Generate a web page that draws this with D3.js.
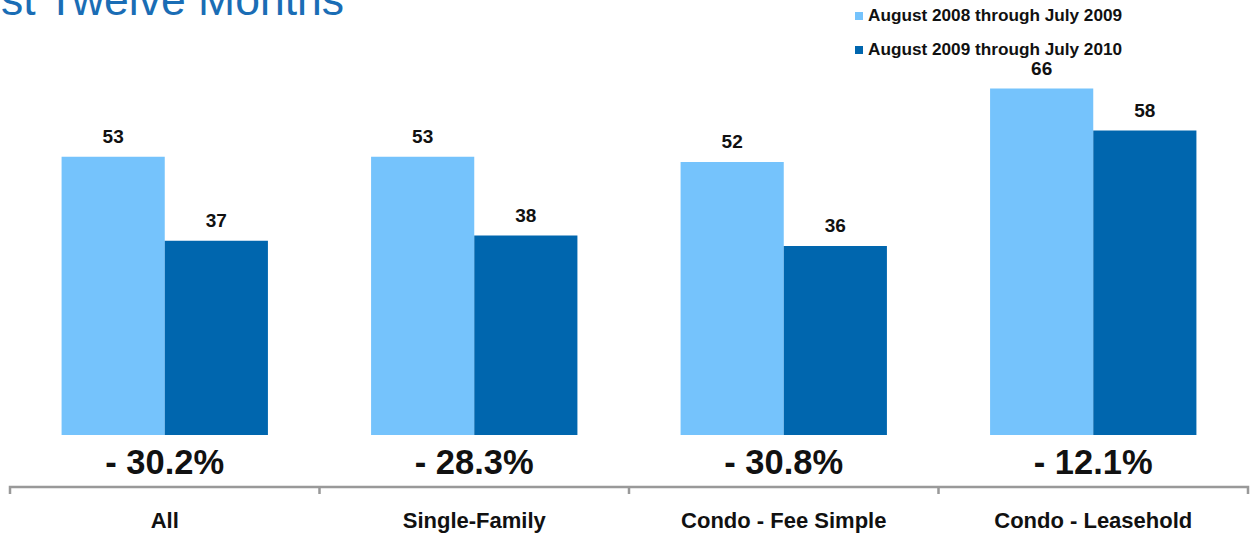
<!DOCTYPE html>
<html>
<head>
<meta charset="utf-8">
<script src="https://cdn.jsdelivr.net/npm/d3@7"></script>
<style>
  body { margin: 0; background: #fff; }
  svg { display: block; font-family: "Liberation Sans", Arial, sans-serif; }
</style>
</head>
<body>
<div id="chart"></div>
<script>
// data
const categories = ["All", "Single-Family", "Condo - Fee Simple", "Condo - Leasehold"];
const seriesNames = ["August 2008 through July 2009", "August 2009 through July 2010"];
const period1 = [53, 53, 52, 66];
const period2 = [37, 38, 36, 58];
const titleText = "st Twelve Months";

const width = 1257, height = 533;
const colors = ["#75c3fc", "#0066ae"];

const svg = d3.select("#chart")
    .append("svg")
    .attr("width", width)
    .attr("height", height);

// title (cut off at the left edge as in the original slide)
svg.append("text")
    .attr("x", 344)
    .attr("y", 15)
    .attr("text-anchor", "end")
    .style("font-size", "44.5px")
    .style("fill", "#1a6db5")
    .text(titleText);

const rows = categories.map((c, i) => ({cat: c, values: [period1[i], period2[i]]}));

// scales
const x0 = d3.scaleBand()
    .domain(categories)
    .range([10, 1248])
    .paddingInner(0);

const x1 = d3.scaleBand()
    .domain([0, 1])
    .range([0, x0.bandwidth()])
    .paddingInner(0)
    .paddingOuter(0.5);

const y = d3.scaleLinear()
    .domain([0, 80])
    .range([435, 15]);

// bars
const groups = svg.append("g").attr("class", "bars")
    .selectAll("g")
    .data(rows)
    .join("g")
    .attr("transform", d => `translate(${x0(d.cat)},0)`);

groups.selectAll("rect")
    .data(d => d.values.map((v, k) => ({k: k, v: v})))
    .join("rect")
    .attr("x", d => x1(d.k))
    .attr("y", d => y(d.v))
    .attr("width", x1.bandwidth())
    .attr("height", d => y(0) - y(d.v))
    .attr("fill", d => colors[d.k]);

// value labels
groups.selectAll("text.val")
    .data(d => d.values.map((v, k) => ({k: k, v: v})))
    .join("text")
    .attr("class", "val")
    .attr("x", d => x1(d.k) + x1.bandwidth() / 2)
    .attr("y", d => y(d.v) - 14)
    .attr("text-anchor", "middle")
    .style("font-size", "19px")
    .style("font-weight", "bold")
    .style("fill", "#111")
    .text(d => d.v);

// percent change under each group
groups.append("text")
    .attr("x", x0.bandwidth() / 2)
    .attr("y", 474)
    .attr("text-anchor", "middle")
    .style("font-size", "34.5px")
    .style("font-weight", "bold")
    .style("fill", "#111")
    .text(d => {
        const pct = (d.values[1] - d.values[0]) / d.values[0] * 100;
        return (pct < 0 ? "- " : "+ ") + Math.abs(pct).toFixed(1) + "%";
    });

// category axis
const axis = svg.append("g")
    .attr("transform", "translate(0,487)")
    .call(d3.axisBottom(x0).tickSize(0).tickPadding(25));

axis.select(".domain")
    .attr("d", "M10,7V0H1248V7")
    .attr("stroke", "#999")
    .attr("stroke-width", 2.5)
    .attr("fill", "none");

axis.selectAll(".tick text")
    .style("font-family", "'Liberation Sans', Arial, sans-serif")
    .style("font-size", "22px")
    .style("font-weight", "bold")
    .style("fill", "#111");

// separators between groups
axis.selectAll("line.sep")
    .data(categories.slice(1))
    .join("line")
    .attr("class", "sep")
    .attr("x1", d => x0(d))
    .attr("x2", d => x0(d))
    .attr("y1", 0)
    .attr("y2", 7)
    .attr("stroke", "#999")
    .attr("stroke-width", 2.5);

// legend
const legend = svg.append("g").attr("class", "legend")
    .selectAll("g")
    .data(seriesNames)
    .join("g")
    .attr("transform", (d, i) => `translate(855,${12 + i * 34})`);

legend.append("rect")
    .attr("width", 8)
    .attr("height", 8)
    .attr("fill", (d, i) => colors[i]);

legend.append("text")
    .attr("x", 13)
    .attr("y", 9)
    .style("font-size", "17.2px")
    .style("font-weight", "bold")
    .style("fill", "#111")
    .text(d => d);
</script>
</body>
</html>
